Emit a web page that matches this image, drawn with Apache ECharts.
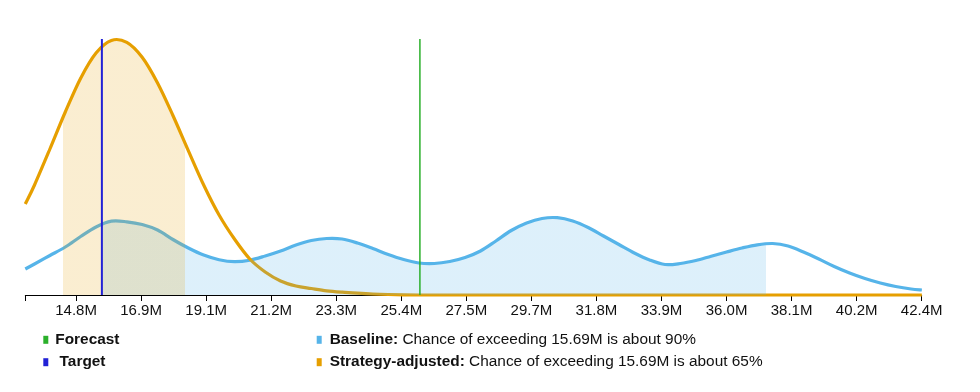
<!DOCTYPE html>
<html>
<head>
<meta charset="utf-8">
<script src="https://cdn.jsdelivr.net/npm/echarts@6/dist/echarts.min.js"></script>
<style>
html,body{margin:0;padding:0;background:#fff;}
#chart{width:980px;height:392px;}
</style>
</head>
<body>
<div id="chart"></div>
<script>
// ---- data (values in millions) ----
var xValues = [13.2, 13.5, 14, 14.5, 15, 15.5, 16, 16.5, 17, 17.5, 18, 18.5, 19, 19.5, 20, 20.5,
               21, 21.5, 22, 22.5, 23, 23.5, 24, 24.5, 25, 25.5, 26, 26.5, 27, 27.5, 28, 28.5,
               29, 29.5, 30, 30.5, 31, 31.5, 32, 32.5, 33, 33.5, 34, 34.5, 35, 35.5, 36, 36.5,
               37, 37.5, 38, 38.5, 39, 39.5, 40, 40.5, 41, 41.5, 42, 42.35];
var baselineDensity = [26, 31, 39.5, 48, 58.5, 68, 73.8, 73.2, 70.5, 65, 55.5, 47, 40, 35.3, 33.3, 34.8,
                       39, 44, 50, 54.5, 56.5, 56, 52, 46.5, 40.5, 35.5, 32, 31.5, 33.5, 37.5, 44, 54,
                       64.5, 72, 76.5, 77.3, 74, 67.5, 59, 50.5, 42, 35, 30.5, 31.5, 34.5, 38.8, 43, 47,
                       50.2, 51.5, 49, 43, 36, 28.5, 22, 16.5, 12, 8.5, 6, 5];
var strategyDensity = [91, 110, 146, 183, 216.8, 242, 254.6, 252.6, 237.7, 212, 179.5, 144.4, 110, 80, 56, 36,
                       23, 14, 9, 6.5, 4.2, 2.8, 1.8, 1.0, 0.5, 0.2, 0, 0, 0, 0, 0, 0,
                       0, 0, 0, 0, 0, 0, 0, 0, 0, 0, 0, 0, 0, 0, 0, 0,
                       0, 0, 0, 0, 0, 0, 0, 0, 0, 0, 0, 0];
var tickValues = [14.85, 16.965, 19.08, 21.195, 23.31, 25.425, 27.54, 29.655, 31.77, 33.885,
                  36.0, 38.115, 40.23, 42.345];
var tickLabels = ['14.8M', '16.9M', '19.1M', '21.2M', '23.3M', '25.4M', '27.5M', '29.7M',
                  '31.8M', '33.9M', '36.0M', '38.1M', '40.2M', '42.4M'];
var axisMin = 13.2;
var axisMax = 42.345;
var densityMax = 256;
var targetValue = 15.69;
var forecastValue = 26.03;
var baselineShadeRange = [15.69, 37.27];
var strategyShadeRange = [14.43, 18.39];
var legendNotes = {
  'Baseline': 'Chance of exceeding 15.69M is about 90%',
  'Strategy-adjusted': 'Chance of exceeding 15.69M is about 65%'
};

// ---- colours ----
var C_BASE = '#56B4E9', C_STRAT = '#E69F00', C_TARGET = '#2222d6', C_FORECAST = '#2bb02b';

function pairs(xs, ys) { return xs.map(function (x, i) { return [x, ys[i]]; }); }

// Catmull-Rom spline through pixel points (from the axis scales)
function splineD(p) {
  var d = 'M' + p[0][0] + ',' + p[0][1];
  for (var i = 0; i < p.length - 1; i++) {
    var p0 = p[i - 1] || p[i], p1 = p[i], p2 = p[i + 1], p3 = p[i + 2] || p[i + 1];
    var c1x = p1[0] + (p2[0] - p0[0]) / 6, c1y = p1[1] + (p2[1] - p0[1]) / 6;
    var c2x = p2[0] - (p3[0] - p1[0]) / 6, c2y = p2[1] - (p3[1] - p1[1]) / 6;
    d += 'C' + c1x + ',' + c1y + ',' + c2x + ',' + c2y + ',' + p2[0] + ',' + p2[1];
  }
  return d;
}

function curveSeries(name, values, color) {
  return {
    name: name, type: 'custom', color: color, itemStyle: { color: color }, silent: true,
    data: pairs(xValues, values),
    encode: { x: 0, y: 1 },
    renderItem: function (params, api) {
      if (params.dataIndex !== 0) return null;
      var pts = xValues.map(function (x, i) { return api.coord([x, values[i]]); });
      return { type: 'path', shape: { pathData: splineD(pts) },
               style: { stroke: color, lineWidth: 3.2, fill: null, lineJoin: 'round' } };
    }
  };
}

function shadeSeries(name, values, range, fillColor) {
  return {
    name: name, type: 'custom', silent: true,
    data: pairs(xValues, values),
    encode: { x: 0, y: 1 },
    renderItem: function (params, api) {
      if (params.dataIndex !== 0) return null;
      var pts = xValues.map(function (x, i) { return api.coord([x, values[i]]); });
      var b1 = api.coord([xValues[xValues.length - 1], 0]), b0 = api.coord([xValues[0], 0]);
      var d = splineD(pts) + 'L' + b1[0] + ',' + b1[1] + 'L' + b0[0] + ',' + b0[1] + 'Z';
      var a = api.coord([range[0], 0])[0], b = api.coord([range[1], 0])[0];
      var t = 'rgba(255,255,255,0)';
      var e = 1 / (b - a + 2);
      var grad = new echarts.graphic.LinearGradient(a - 1, 0, b + 1, 0, [
        { offset: 0, color: t }, { offset: e, color: t },
        { offset: e, color: fillColor }, { offset: 1 - e, color: fillColor },
        { offset: 1 - e, color: t }, { offset: 1, color: t }
      ], true);
      return { type: 'path', shape: { pathData: d }, style: { fill: grad, stroke: null } };
    }
  };
}

var FONT = '"Liberation Sans", Arial, Helvetica, sans-serif';
var LFS = 15.4;

function mkLegend(name, left, top, rich) {
  var l = {
    show: true, left: left, top: top, orient: 'horizontal', selectedMode: false, padding: 0,
    itemWidth: 5, itemHeight: 8,
    data: [{ name: name, icon: 'rect' }],
    textStyle: { fontFamily: FONT, fontSize: LFS, fontWeight: 'bold', color: '#111', padding: [0, 0, 0, 2] }
  };
  if (rich) {
    l.formatter = function (n) { return '{b|' + n + ':}{n| ' + legendNotes[n] + '}'; };
    l.textStyle.padding = [0, 0, 0, 3];
    l.textStyle.rich = {
      b: { fontFamily: FONT, fontSize: LFS, fontWeight: 'bold', color: '#111' },
      n: { fontFamily: FONT, fontSize: LFS, fontWeight: 'normal', color: '#111' }
    };
  } else if (name === 'Target') {
    l.formatter = function (n) { return ' ' + n; };
  }
  return l;
}

var chart = echarts.init(document.getElementById('chart'), null, { renderer: 'canvas' });
chart.setOption({
  animation: false,
  grid: { left: 25.3, right: 58.3, top: 39, bottom: 97, containLabel: false },
  legend: [
    mkLegend('Forecast', 43.3, 332.3, false),
    mkLegend('Target', 43.3, 354.7, false),
    mkLegend('Baseline', 316.7, 332.3, true),
    mkLegend('Strategy-adjusted', 316.7, 354.7, true)
  ],
  xAxis: {
    type: 'value', min: axisMin, max: axisMax,
    axisLine: { show: true, onZero: false, lineStyle: { color: '#000', width: 1 } },
    axisTick: { show: true, length: 6, lineStyle: { color: '#000' },
                customValues: [axisMin].concat(tickValues) },
    axisLabel: {
      show: true, margin: 8, customValues: tickValues,
      fontFamily: FONT, fontSize: 15, color: '#111',
      formatter: function (v) {
        var best = 0, d = Infinity;
        tickValues.forEach(function (t, i) { if (Math.abs(t - v) < d) { d = Math.abs(t - v); best = i; } });
        return tickLabels[best];
      }
    },
    splitLine: { show: false }
  },
  yAxis: { type: 'value', min: 0, max: densityMax, show: false, splitLine: { show: false } },
  series: [
    {
      name: 'Forecast', type: 'line', color: C_FORECAST, showSymbol: false, silent: true,
      data: [[forecastValue, 0], [forecastValue, densityMax]],
      lineStyle: { color: C_FORECAST, width: 1.5 }
    },
    {
      name: 'Target', type: 'line', color: C_TARGET, showSymbol: false, silent: true,
      data: [[targetValue, 0], [targetValue, densityMax]],
      lineStyle: { color: C_TARGET, width: 2 }
    },
    curveSeries('Baseline', baselineDensity, C_BASE),
    curveSeries('Strategy-adjusted', strategyDensity, C_STRAT),
    shadeSeries('baselineShade', baselineDensity, baselineShadeRange, 'rgba(86,180,233,0.2)'),
    shadeSeries('strategyShade', strategyDensity, strategyShadeRange, 'rgba(230,159,0,0.18)')
  ]
});
</script>
</body>
</html>
